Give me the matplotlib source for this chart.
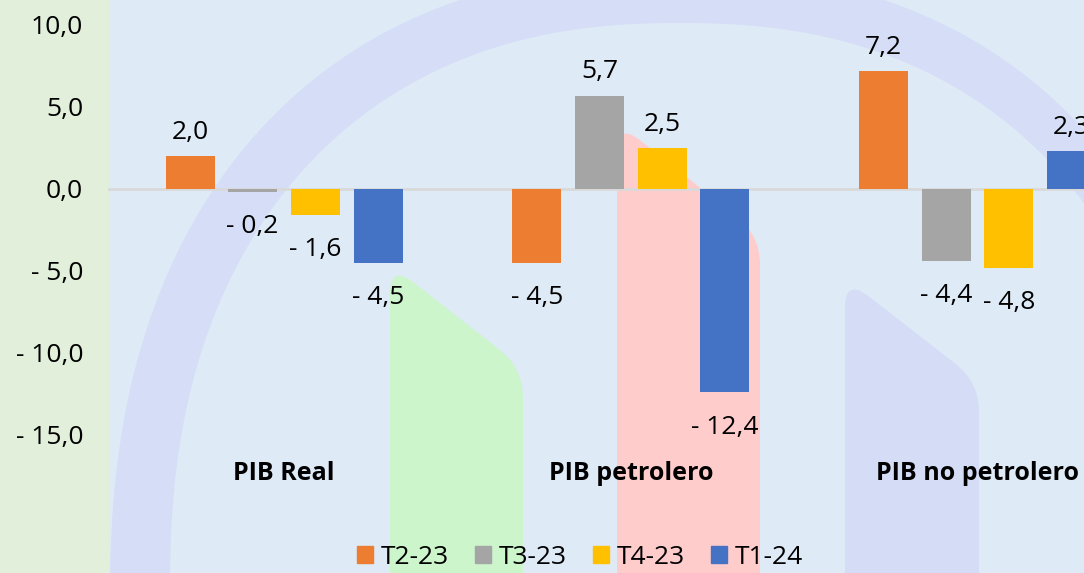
import numpy as np
import matplotlib
matplotlib.use("Agg")
import matplotlib.pyplot as plt
from matplotlib.patches import Rectangle, Polygon, PathPatch, Patch
from matplotlib.path import Path

plt.rcParams['font.family'] = ['Open Sans', 'DejaVu Sans']

# data
groups = ['PIB Real', 'PIB petrolero', 'PIB no petrolero']
series = ['T2-23', 'T3-23', 'T4-23', 'T1-24']
t2_23 = [2.0, -4.5, 7.2]
t3_23 = [-0.2, 5.7, -4.4]
t4_23 = [-1.6, 2.5, -4.8]
t1_24 = [-4.5, -12.4, 2.3]
colors = ['#ED7D31', '#A5A5A5', '#FFC000', '#4472C4']
y_ticks = [10, 5, 0, -5, -10, -15]


def fmt(v):
    s = f"{abs(v):.1f}".replace('.', ',')
    return f"- {s}" if v < 0 else s


W, H = 1084, 573
fig = plt.figure(figsize=(W / 100, H / 100), dpi=100)

# background layer in pixel coords
bg = fig.add_axes([0, 0, 1, 1])
bg.set_xlim(0, W)
bg.set_ylim(H, 0)
bg.axis('off')
bg.add_patch(Rectangle((108, 0), W - 108, H, color='#DEEAF6', zorder=0))


def superellipse(cx, cy, a, b, n, t):
    x = cx + a * np.sign(np.cos(t)) * np.abs(np.cos(t)) ** (2 / n)
    y = cy - b * np.sign(np.sin(t)) * np.abs(np.sin(t)) ** (2 / n)
    return np.column_stack([x, y])


# big arc of the logo watermark
t = np.linspace(-0.15, np.pi + 0.15, 300)
outer = superellipse(672, 600, 562, 630, 2.3, t)
inner = superellipse(680, 590, 510, 567, 2.3, t)
band = np.vstack([outer, inner[::-1]])
bg.add_patch(Polygon(band, closed=True, color='#D5DEF6', lw=0, zorder=1))


def tab_shape(xl, xr, y1, y2, r, color):
    '''slanted-top column with rounded corners'''
    bottom = H + 20
    dx, dy = xr - xl, y2 - y1
    L = np.hypot(dx, dy)
    ux, uy = dx / L, dy / L
    verts = [(xl, bottom), (xl, y1 + r), (xl, y1), (xl + r * ux, y1 + r * uy),
             (xr - r * ux, y2 - r * uy), (xr, y2), (xr, y2 + r), (xr, bottom), (xl, bottom)]
    codes = [Path.MOVETO, Path.LINETO, Path.CURVE3, Path.CURVE3, Path.LINETO,
             Path.CURVE3, Path.CURVE3, Path.LINETO, Path.CLOSEPOLY]
    bg.add_patch(PathPatch(Path(verts, codes), facecolor=color, lw=0, zorder=2))


tab_shape(390, 523, 264, 368, 30, '#CCF5CC')
tab_shape(617, 760, 122, 235, 30, '#FFCCCC')
tab_shape(845, 979, 278, 382, 30, '#D5DDF6')

# left strip behind the tick labels
bg.add_patch(Rectangle((0, 0), 108, H, color='#E2EFDA', zorder=3))

# main chart
ax = fig.add_axes([108 / W, 0, (W - 108) / W, 1])
ax.set_facecolor('none')
ax.set_xlim(-0.5076, 2.307)
ax.set_ylim(-23.415, 11.524)

x = np.arange(len(groups))
step, width = 0.1807, 0.1413
values = [t2_23, t3_23, t4_23, t1_24]
ax.axhline(0, color='#D9D9D9', lw=2, zorder=1)
for i, (vals, c) in enumerate(zip(values, colors)):
    pos = x + (i - 1.5) * step
    ax.bar(pos, vals, width, color=c, zorder=2)
    for p, v in zip(pos, vals):
        if v >= 0:
            ax.annotate(fmt(v), (p, v), xytext=(0, 8), textcoords='offset points',
                        ha='center', va='bottom', fontsize=19)
        else:
            ax.annotate(fmt(v), (p, v), xytext=(0, -16), textcoords='offset points',
                        ha='center', va='top', fontsize=19)

for gx, name in zip(x, groups):
    ax.text(gx, -17.35, name, ha='center', va='center', fontsize=18, fontweight='bold')

ax.set_xticks([])
ax.set_yticks(y_ticks)
ax.set_yticklabels([fmt(v) for v in y_ticks], fontsize=19)
ax.tick_params(axis='y', length=0, pad=18)
for s in ax.spines.values():
    s.set_visible(False)

handles = [Patch(color=c, label=s) for c, s in zip(colors, series)]
fig.legend(handles=handles, ncol=4, loc='center', bbox_to_anchor=(580 / W, 1 - 557 / H),
           frameon=False, fontsize=19, handlelength=0.6, handleheight=0.6,
           handletextpad=0.3, columnspacing=1.0, borderaxespad=0)

fig.savefig('out.png', dpi=100)
